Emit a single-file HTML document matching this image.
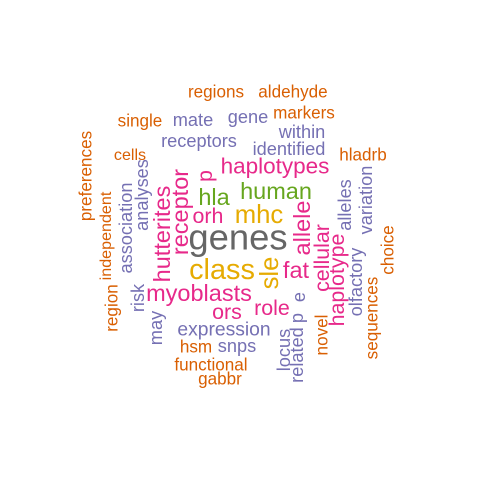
<!DOCTYPE html>
<html><head><meta charset="utf-8"><style>
html,body{margin:0;padding:0;background:#fff;}
svg text{font-family:"Liberation Sans",Arial,sans-serif;}
</style></head><body>
<svg id="cloud" width="480" height="480" viewBox="0 0 480 480" xmlns="http://www.w3.org/2000/svg">
<rect width="480" height="480" fill="#fff"/>
</svg>
<script>
const words=["regions","aldehyde","single","mate","gene","markers","within","receptors","identified","cells","hladrb","haplotypes","hla","human","orh","mhc","genes","class","fat","myoblasts","ors","role","expression","hsm","snps","functional","gabbr",
"preferences","independent","region","association","analyses","risk","may","hutterites","receptor","p","sle","allele","cellular","e","p","locus","related","novel","haplotype","olfactory","alleles","variation","sequences","choice"];
const sizes=[16,16,16,17,17,16,17,17,17,15,16,21,22,22,20,24,34,27,22,22,20,20,18,16,17,16,16,
16,15,16,17,17,17,17,22,22,20,24,22,20,17,17,17,17,16,20,17,17,17,16,16];
const colors=["o","o","o","u","u","o","u","u","u","o","o","k","g","g","k","y","d","y","k","k","k","k","u","o","u","o","o",
"o","o","o","u","u","u","u","k","k","k","y","k","k","u","u","u","u","o","k","u","u","u","o","o"];
const xs=[216,293,140,193,248,304,302,199,289,130,363,275,214,276,208,259,238,222,296,199,227,272,224,196,237,211,220,
86,106,112,126,142,138,156,162,180,205,270,302,322,299,297,284,297,322,337,356,345,366,372,388];
const ys=[92,92,121,120,117,113,132,141,149,155,155,166,197,191,216,215,237,270,270,293,312,308,330,347,346,365,379,
176,236,308,228,195,298,328,234,212,176,273,228,258,297,318,350,355,335,280,282,205,200,318,250];
const rot=[0,0,0,0,0,0,0,0,0,0,0,0,0,0,0,0,0,0,0,0,0,0,0,0,0,0,0,
1,1,1,1,1,1,1,1,1,1,1,1,1,1,1,1,1,1,1,1,1,1,1,1];
const pal={o:"#D95F02",u:"#7570B3",k:"#E7298A",g:"#66A61E",y:"#E6AB02",d:"#666666"};
const scale=1.07;
const svg=document.getElementById('cloud');
for(let i=0;i<words.length;i++){
  const t=document.createElementNS("http://www.w3.org/2000/svg","text");
  
  
  t.setAttribute('x',xs[i]);t.setAttribute('y',ys[i]);
  t.setAttribute('font-size',(sizes[i]*scale).toFixed(1));
  t.setAttribute('fill',pal[colors[i]]);
  t.setAttribute('text-anchor','middle');
  t.setAttribute('dominant-baseline','central');
  if(rot[i])t.setAttribute('transform','rotate(-90 '+xs[i]+' '+ys[i]+')');
  t.textContent=words[i];
  svg.appendChild(t);
}
</script>
</body></html>
